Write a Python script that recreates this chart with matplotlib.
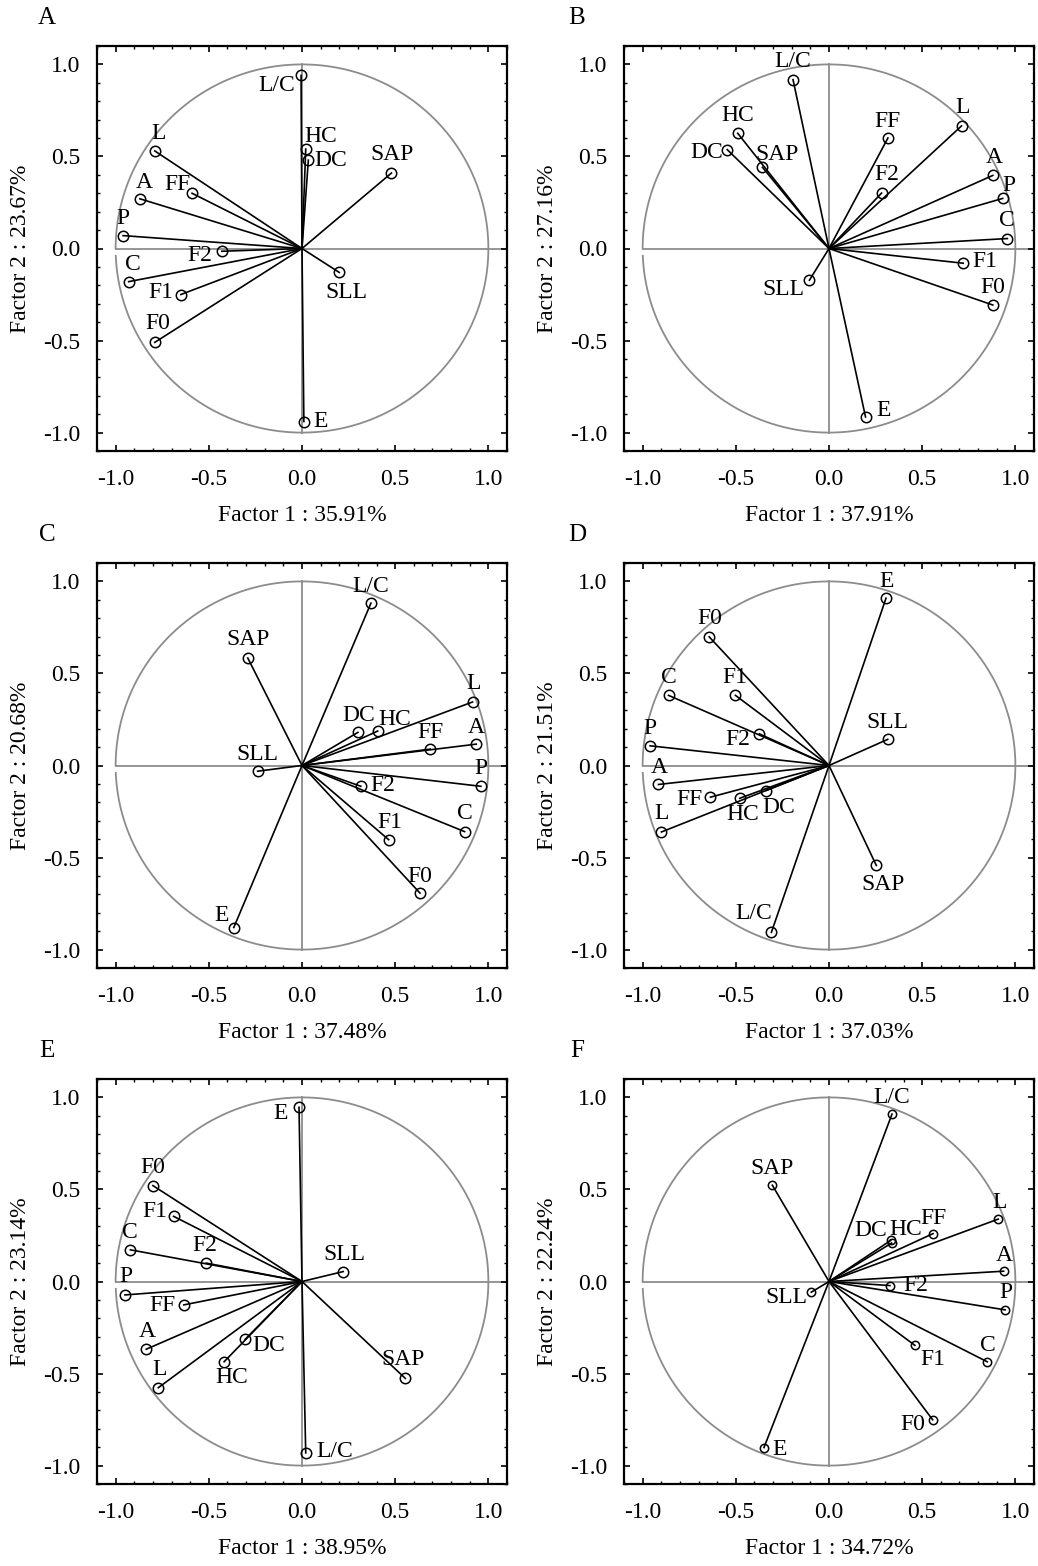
import numpy as np
import matplotlib
matplotlib.use('Agg')
import matplotlib.pyplot as plt
from matplotlib.ticker import MultipleLocator

plt.rcParams['font.family'] = ['Liberation Serif', 'DejaVu Serif']
plt.rcParams['font.size'] = 17

variables = ['L/C', 'HC', 'DC', 'SAP', 'L', 'FF', 'A', 'P', 'F2', 'C', 'F1', 'F0', 'SLL', 'E']

panel_names = ['A', 'B', 'C', 'D', 'E', 'F']
factor1_pct = ['35.91', '37.91', '37.48', '37.03', '38.95', '34.72']
factor2_pct = ['23.67', '27.16', '20.68', '21.51', '23.14', '22.24']

# loadings, same order as variables
a_x = [-0.005, 0.02, 0.034, 0.48, -0.79, -0.59, -0.87, -0.96, -0.43, -0.93, -0.65, -0.79, 0.20, 0.01]
a_y = [0.94, 0.54, 0.48, 0.41, 0.53, 0.30, 0.27, 0.07, -0.015, -0.18, -0.25, -0.51, -0.13, -0.94]
b_x = [-0.193, -0.49, -0.546, -0.357, 0.711, 0.316, 0.879, 0.932, 0.282, 0.957, 0.72, 0.879, -0.105, 0.196]
b_y = [0.917, 0.626, 0.537, 0.441, 0.666, 0.60, 0.397, 0.272, 0.301, 0.054, -0.08, -0.307, -0.172, -0.915]
c_x = [0.37, 0.406, 0.30, -0.291, 0.915, 0.688, 0.935, 0.96, 0.316, 0.872, 0.465, 0.633, -0.238, -0.366]
c_y = [0.882, 0.187, 0.18, 0.584, 0.345, 0.089, 0.116, -0.113, -0.113, -0.359, -0.403, -0.693, -0.031, -0.88]
d_x = [-0.309, -0.479, -0.338, 0.254, -0.899, -0.636, -0.915, -0.96, -0.374, -0.861, -0.502, -0.643, 0.315, 0.306]
d_y = [-0.906, -0.178, -0.136, -0.543, -0.361, -0.172, -0.103, 0.107, 0.172, 0.381, 0.381, 0.699, 0.142, 0.909]
e_x = [0.02, -0.418, -0.305, 0.554, -0.771, -0.634, -0.836, -0.95, -0.514, -0.921, -0.689, -0.80, 0.221, -0.016]
e_y = [-0.931, -0.436, -0.314, -0.526, -0.577, -0.127, -0.368, -0.073, 0.10, 0.172, 0.354, 0.521, 0.054, 0.946]
f_x = [0.338, 0.336, 0.331, -0.304, 0.908, 0.558, 0.937, 0.945, 0.327, 0.849, 0.461, 0.556, -0.095, -0.349]
f_y = [0.909, 0.209, 0.223, 0.523, 0.339, 0.26, 0.056, -0.154, -0.022, -0.436, -0.347, -0.751, -0.058, -0.902]

loadings = [(a_x, a_y), (b_x, b_y), (c_x, c_y), (d_x, d_y), (e_x, e_y), (f_x, f_y)]

# label offsets in pixels (dx, dy), same order as variables
label_offsets = [
    [(-24, -10), (15, 13), (22, 0), (1, 19), (4, 17), (-15, 9), (4, 16), (0, 17), (-22, -4), (4, 17), (-20, 2), (3, 19), (7, -20), (17, 0)],
    [(0, 18), (0, 18), (-21, -3), (15, 13), (1, 18), (0, 17), (1, 18), (6, 13), (5, 19), (0, 18), (22, 2), (0, 18), (-26, -9), (18, 6)],
    [(0, 17), (17, 12), (1, 17), (0, 18), (1, 18), (0, 17), (0, 17), (0, 18), (22, 1), (0, 18), (1, 17), (0, 17), (0, 17), (-12, 12)],
    [(-18, 19), (3, -16), (13, -17), (7, -19), (0, 18), (-21, -2), (1, 17), (0, 17), (-22, -6), (0, 18), (-1, 18), (1, 18), (0, 17), (1, 17)],
    [(29, 1), (8, -16), (24, -6), (-2, 19), (1, 18), (-21, -1), (1, 18), (1, 18), (-1, 18), (0, 17), (-19, 5), (0, 18), (1, 17), (-18, -6)],
    [(0, 17), (14, 14), (-20, 10), (0, 17), (1, 17), (0, 15), (1, 16), (1, 17), (26, 0), (1, 16), (18, -14), (-20, -5), (-25, -5), (16, -2)],
]

W, H = 1038, 1566
lefts = [97, 624]
tops = [46, 563, 1079]
ax_w, ax_h = 410, 405

fig = plt.figure(figsize=(W / 100, H / 100), dpi=100)

for i, name in enumerate(panel_names):
    row, col = divmod(i, 2)
    left = lefts[col]
    top = tops[row]
    ax = fig.add_axes([left / W, 1 - (top + ax_h) / H, ax_w / W, ax_h / H])

    # unit circle with small gap on the left, and cross lines
    t = np.linspace(np.pi + 0.04, 3 * np.pi, 400)
    ax.plot(np.cos(t), np.sin(t), color='#8c8c8c', lw=1.3, zorder=1)
    ax.plot([-1, 1.1], [0, 0], color='#8c8c8c', lw=1.3, zorder=1)
    ax.plot([0, 0], [-1, 1], color='#8c8c8c', lw=1.3, zorder=1)

    xs, ys = loadings[i]
    msize = 6 if name == 'F' else 7.5
    for v, x, y, off in zip(variables, xs, ys, label_offsets[i]):
        ax.plot([0, x], [0, y], color='black', lw=1.2, zorder=2)
        ax.plot(x, y, 'o', ms=msize, mfc='none', mec='black', mew=1.1, zorder=3)
        ax.annotate(v, (x, y), xytext=off, textcoords='offset pixels',
                    ha='center', va='center', fontsize=17, zorder=4)

    ax.set_xlim(-1.1, 1.1)
    ax.set_ylim(-1.1, 1.1)
    ax.xaxis.set_major_locator(MultipleLocator(0.5))
    ax.yaxis.set_major_locator(MultipleLocator(0.5))
    ax.xaxis.set_minor_locator(MultipleLocator(0.1))
    ax.yaxis.set_minor_locator(MultipleLocator(0.1))
    ax.xaxis.set_major_formatter(plt.FuncFormatter(lambda v, p: '%.1f' % v))
    ax.yaxis.set_major_formatter(plt.FuncFormatter(lambda v, p: '%.1f' % v))
    ax.tick_params(which='both', direction='in', top=True, right=True, colors='black')
    ax.tick_params(which='major', length=4, width=1.2)
    ax.tick_params(which='minor', length=2, width=1.0)
    ax.tick_params(axis='x', which='major', pad=13, labelsize=17)
    ax.tick_params(axis='y', which='major', pad=12, labelsize=17)
    for s in ax.spines.values():
        s.set_linewidth(1.6)

    ax.set_xlabel('Factor 1 : ' + factor1_pct[i] + '%', fontsize=17, labelpad=11)
    ax.set_ylabel('Factor 2 : ' + factor2_pct[i] + '%', fontsize=17, labelpad=9)

    letter_x = 47 if col == 0 else 577
    fig.text(letter_x / W, 1 - (top - 28) / H, name, fontsize=18,
             ha='center', va='center')

fig.savefig('out.png', dpi=100)
